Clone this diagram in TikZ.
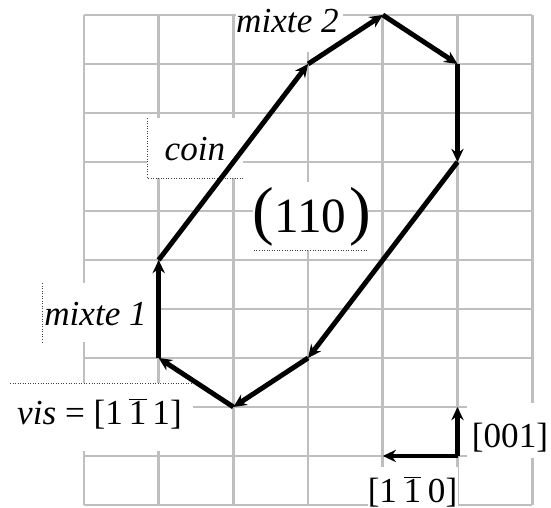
\documentclass[tikz,border=0pt]{standalone}
\usepackage{fontspec}
\setmainfont{Liberation Serif}
\usetikzlibrary{arrows.meta}

\newcommand{\quer}[1]{$\overline{\hbox{#1}}$}

\tikzset{
  gitter/.style={line width=1.5pt, gray!50},
  pfeil/.style={line width=2.8pt, -{Stealth[length=7.5pt,width=7pt,inset=2.5pt]}},
  rahmen/.style={densely dotted, line width=0.45pt, black!75},
  abdeckung/.style={fill=white},
  schrift/.style={anchor=base, inner sep=0pt, font=\fontsize{20}{23}\selectfont},
}

\begin{document}
\begin{tikzpicture}[x=1.494cm,y=0.98cm]

% Gittergröße
\def\breite{6}
\def\hoehe{10}

\useasboundingbox (-1.1245,-0.0612) rectangle (6.2517,10.306);

% ------------------- Gitter -------------------
\foreach \i in {0,...,\breite}
  \draw[gitter] (\i,0) -- (\i,\hoehe);
\foreach \j in {0,...,\hoehe}
  \draw[gitter] (0,\j) -- (\breite,\j);

% ------------------- Textfelder -------------------
\fill[abdeckung] (2.035,9.245) rectangle (3.467,10.306);
\fill[abdeckung] (0.843,6.673) rectangle (2.128,7.898);
\fill[abdeckung] (2.262,5.204) rectangle (3.802,6.592);
\fill[abdeckung] (-0.562,3.327) rectangle (0.977,4.531);
\fill[abdeckung] (-0.991,1.102) rectangle (1.459,2.490);
\fill[abdeckung] (5.127,0.959) rectangle (6.2517,2.082);
\fill[abdeckung] (3.802,-0.0612) rectangle (5.007,0.776);

% Rahmenlinien
\draw[rahmen] (0.843,7.898) -- (0.843,6.673) -- (2.128,6.673);
\draw[rahmen] (2.275,5.204) -- (3.788,5.204);
\draw[rahmen] (-0.562,4.531) -- (-0.562,3.327);
\draw[rahmen] (-0.991,2.490) -- (1.459,2.490);

% ------------------- Schleife -------------------
\coordinate (a) at (1,5);
\coordinate (b) at (3,9);
\coordinate (c) at (4,10);
\coordinate (d) at (5,9);
\coordinate (e) at (5,7);
\coordinate (f) at (3,3);
\coordinate (g) at (2,2);
\coordinate (h) at (1,3);

\foreach \von/\nach in {a/b,b/c,c/d,d/e,e/f,f/g,g/h,h/a}
  \draw[pfeil] (\von) -- (\nach);

% Richtungen
\coordinate (o) at (5,1);
\coordinate (oz) at (5,2);
\coordinate (ox) at (4,1);
\draw[pfeil] (o) -- (oz);
\draw[pfeil] (o) -- (ox);

% ------------------- Beschriftung -------------------
\node[schrift] (mixteDeux) at (2.724,9.633) {\textit{mixte 2}};
\node[schrift] (coin) at (1.486,7.020) {\textit{coin}};
\node[schrift] (plan) at (3.052,5.571)
  {{\fontsize{37}{37}\selectfont(}{\fontsize{28}{30}\selectfont 110}\hspace{2pt}{\fontsize{37}{37}\selectfont)}};
\node[schrift] (mixteUn) at (0.154,3.673) {\textit{mixte 1}};
\node[schrift] (vis) at (0.2075,1.633)
  {\textit{vis} = [1\hspace{0.17em}\quer{1}\hspace{0.17em}1]};
\node[schrift] (dirZ) at (5.703,1.163) {[001]};
\node[schrift] (dirX) at (4.398,0.05) {[1\hspace{0.19em}\quer{1}\hspace{0.19em}0]};

\end{tikzpicture}
\end{document}
